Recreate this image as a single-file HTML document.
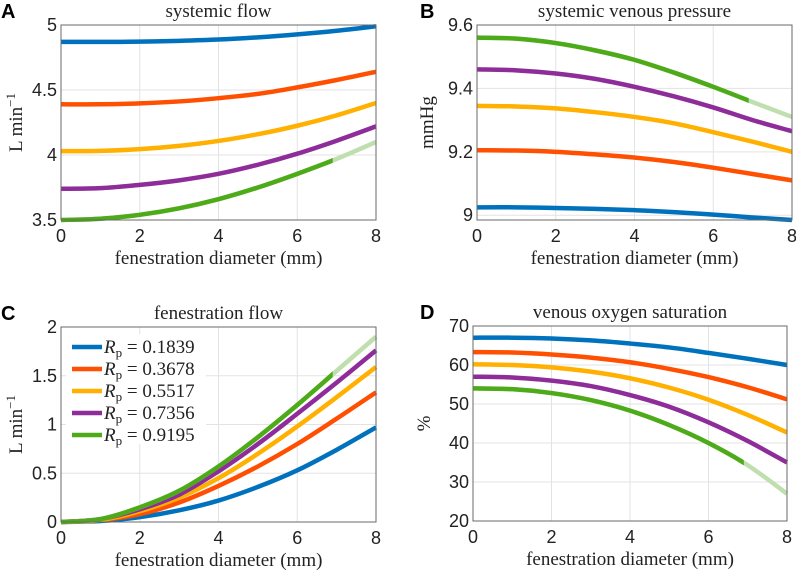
<!DOCTYPE html>
<html><head><meta charset="utf-8">
<style>
html,body{margin:0;padding:0;background:#fff;}
svg{display:block;}
.tick{font-family:"Liberation Sans",sans-serif;font-size:18px;fill:#222;}
.ser{font-family:"Liberation Serif",serif;font-size:19px;fill:#222;}
.pl{font-family:"Liberation Sans",sans-serif;font-size:20px;font-weight:bold;fill:#000;}
</style></head>
<body>
<svg id="fig" width="796" height="572" viewBox="0 0 796 572"></svg>
<script>
const xVals=[0,1,2,3,4,5,6,7,8];
const xTicks=[0,2,4,6,8];
const seriesNames=["Rp = 0.1839","Rp = 0.3678","Rp = 0.5517","Rp = 0.7356","Rp = 0.9195"];
const legendValues=["0.1839","0.3678","0.5517","0.7356","0.9195"];
const colors=["#0072BD","#FF4F00","#FFB000","#8E2C99","#4DAA18"];
const fadedGreen="#BFE0AE";
const fadeStart=6.9;

const sysFlowBlue=[4.87,4.87,4.872,4.878,4.888,4.905,4.928,4.956,4.99];
const sysFlowOrange=[4.39,4.39,4.397,4.412,4.437,4.47,4.52,4.577,4.64];
const sysFlowYellow=[4.03,4.032,4.045,4.07,4.108,4.16,4.225,4.305,4.40];
const sysFlowPurple=[3.74,3.745,3.77,3.805,3.855,3.925,4.01,4.11,4.22];
const sysFlowGreen=[3.50,3.51,3.54,3.59,3.66,3.75,3.855,3.97,4.10];
const sysFlowTicks=[3.5,4,4.5,5];

const svpBlue=[9.025,9.025,9.023,9.02,9.016,9.01,9.002,8.993,8.985];
const svpOrange=[9.205,9.204,9.20,9.192,9.182,9.168,9.15,9.13,9.11];
const svpYellow=[9.345,9.343,9.337,9.325,9.31,9.29,9.262,9.232,9.20];
const svpPurple=[9.46,9.457,9.447,9.43,9.405,9.375,9.34,9.30,9.265];
const svpGreen=[9.56,9.557,9.543,9.52,9.49,9.45,9.405,9.357,9.31];
const svpTicks=[9,9.2,9.4,9.6];

const fenBlue=[0,0.01,0.05,0.12,0.22,0.36,0.53,0.74,0.97];
const fenOrange=[0,0.02,0.08,0.2,0.37,0.57,0.8,1.06,1.33];
const fenYellow=[0,0.02,0.11,0.25,0.45,0.7,0.98,1.28,1.59];
const fenPurple=[0,0.03,0.13,0.28,0.52,0.8,1.11,1.43,1.76];
const fenGreen=[0,0.03,0.15,0.32,0.57,0.87,1.2,1.55,1.9];
const fenTicks=[0,0.5,1,1.5,2];

const satBlue=[67,67,66.8,66.3,65.5,64.5,63.1,61.6,60];
const satOrange=[63.3,63.2,62.7,61.9,60.7,59,56.9,54.3,51.2];
const satYellow=[60.2,60,59.4,58.3,56.6,54.2,51.1,47.2,42.7];
const satPurple=[57,56.8,56,54.6,52.3,49.3,45.3,40.5,35];
const satGreen=[54,53.8,52.8,51,48.3,44.6,40,34.3,27];
const satTicks=[20,30,40,50,60,70];

const NS="http://www.w3.org/2000/svg";
const fig=document.getElementById('fig');
function mk(tag,attrs,parent){const e=document.createElementNS(NS,tag);for(const k in attrs)e.setAttribute(k,attrs[k]);(parent||fig).appendChild(e);return e;}

function catmull(pts){
  let d="M"+pts[0][0].toFixed(2)+","+pts[0][1].toFixed(2);
  for(let i=0;i<pts.length-1;i++){
    const p0=pts[Math.max(0,i-1)],p1=pts[i],p2=pts[i+1],p3=pts[Math.min(pts.length-1,i+2)];
    const c1=[p1[0]+(p2[0]-p0[0])/6,p1[1]+(p2[1]-p0[1])/6];
    const c2=[p2[0]-(p3[0]-p1[0])/6,p2[1]-(p3[1]-p1[1])/6];
    d+="C"+c1[0].toFixed(2)+","+c1[1].toFixed(2)+" "+c2[0].toFixed(2)+","+c2[1].toFixed(2)+" "+p2[0].toFixed(2)+","+p2[1].toFixed(2);
  }
  return d;
}

function panel(cfg){
  const g=mk('g',{});
  
  
  const {x0,x1,y0,y1,ymin,ymax}=cfg;
  const sx=v=>x0+(v-0)/(8-0)*(x1-x0);
  const sy=v=>y1-(v-ymin)/(ymax-ymin)*(y1-y0);
  xTicks.forEach(t=>{const l=mk('line',{x1:sx(t),x2:sx(t),y1:y0,y2:y1,stroke:"#e3e3e3","stroke-width":1},g);
    });
  cfg.yTicks.forEach(t=>{const l=mk('line',{x1:x0,x2:x1,y1:sy(t),y2:sy(t),stroke:"#e3e3e3","stroke-width":1},g);
    });
  const clip=mk('clipPath',{id:'clip-'+cfg.name},g);
  mk('rect',{x:x0,y:y0-3,width:x1-x0+3,height:y1-y0+6},clip);
  const sg=mk('g',{'clip-path':'url(#clip-'+cfg.name+')'},g);
  cfg.series.forEach((s,i)=>{
    const pts=xVals.map((x,j)=>[sx(x),sy(s[j])]);
    if(i===4){
      const p=mk('path',{d:catmull(pts),fill:"none",stroke:fadedGreen,"stroke-width":4.5},sg);
      
      
      const cp=mk('clipPath',{id:'cf-'+cfg.name},g);
      mk('rect',{x:x0-5,y:0,width:sx(fadeStart)-x0+5,height:572},cp);
      const p2=mk('path',{d:catmull(pts),fill:"none",stroke:colors[i],"stroke-width":4.5,'clip-path':'url(#cf-'+cfg.name+')'},sg);
      
      
    } else {
      const p=mk('path',{d:catmull(pts),fill:"none",stroke:colors[i],"stroke-width":4.5},sg);
      
      
    }
  });
  const b=mk('rect',{x:x0,y:y0,width:x1-x0,height:y1-y0,fill:"none",stroke:"#6a6a6a","stroke-width":1},g);
  
  xTicks.forEach(t=>{const tx=mk('text',{x:sx(t),y:y1+22,'text-anchor':'middle',class:'tick'},g);tx.textContent=t;
    });
  cfg.yTicks.forEach(t=>{const tx=mk('text',{x:x0-4,y:sy(t)+6,'text-anchor':'end',class:'tick'},g);tx.textContent=t;
    });
  const xt=mk('text',{x:(x0+x1)/2,y:y1+44,'text-anchor':'middle',class:'ser'},g);
  xt.textContent="fenestration diameter (mm)";
  
  const tt=mk('text',{x:(x0+x1)/2,y:y0-8,'text-anchor':'middle',class:'ser'},g);
  tt.textContent=cfg.title;
  
  const yt=mk('text',{x:cfg.ytx,y:(y0+y1)/2,'text-anchor':'middle',class:'ser',transform:'rotate(-90 '+cfg.ytx+' '+(y0+y1)/2+')'},g);
  yt.innerHTML=cfg.ytitle;
  
  const pl=mk('text',{x:cfg.lx,y:y0-7,class:'pl'},g);
  pl.textContent=cfg.letter;
  
  return g;
}

const minus='L min<tspan dy="-7" font-size="13">−1</tspan>';
panel({name:'panel-a-systemic-flow',x0:61,x1:376,y0:25,y1:220,ymin:3.5,ymax:5,yTicks:sysFlowTicks,
  series:[sysFlowBlue,sysFlowOrange,sysFlowYellow,sysFlowPurple,sysFlowGreen],title:'systemic flow',ytitle:minus,ytx:22,letter:'A',lx:1});
panel({name:'panel-b-venous-pressure',x0:477,x1:792,y0:25,y1:220,ymin:8.985,ymax:9.6,yTicks:svpTicks,
  series:[svpBlue,svpOrange,svpYellow,svpPurple,svpGreen],title:'systemic venous pressure',ytitle:'mmHg',ytx:433,letter:'B',lx:420});
panel({name:'panel-c-fenestration-flow',x0:61,x1:376,y0:327,y1:522,ymin:0,ymax:2,yTicks:fenTicks,
  series:[fenBlue,fenOrange,fenYellow,fenPurple,fenGreen],title:'fenestration flow',ytitle:minus,ytx:22,letter:'C',lx:1});
panel({name:'panel-d-oxygen-saturation',x0:473,x1:787,y0:326,y1:521,ymin:20,ymax:70,yTicks:satTicks,
  series:[satBlue,satOrange,satYellow,satPurple,satGreen],title:'venous oxygen saturation',ytitle:'%',ytx:430,letter:'D',lx:420});

const lg=mk('g',{});


mk('rect',{x:66,y:334,width:140,height:110,fill:"#fff"},lg);
legendValues.forEach((v,i)=>{
  const y=347+i*22;
  const e=mk('g',{},lg);
  
  
  mk('line',{x1:72,x2:102,y1:y,y2:y,stroke:colors[i],"stroke-width":4.5},e);
  const t=mk('text',{x:104,y:y+6,class:'ser'},e);
  t.innerHTML='<tspan font-style="italic">R</tspan><tspan font-size="13" dy="4">p</tspan><tspan dy="-4"> = '+v+'</tspan>';
});
</script>
</body></html>
